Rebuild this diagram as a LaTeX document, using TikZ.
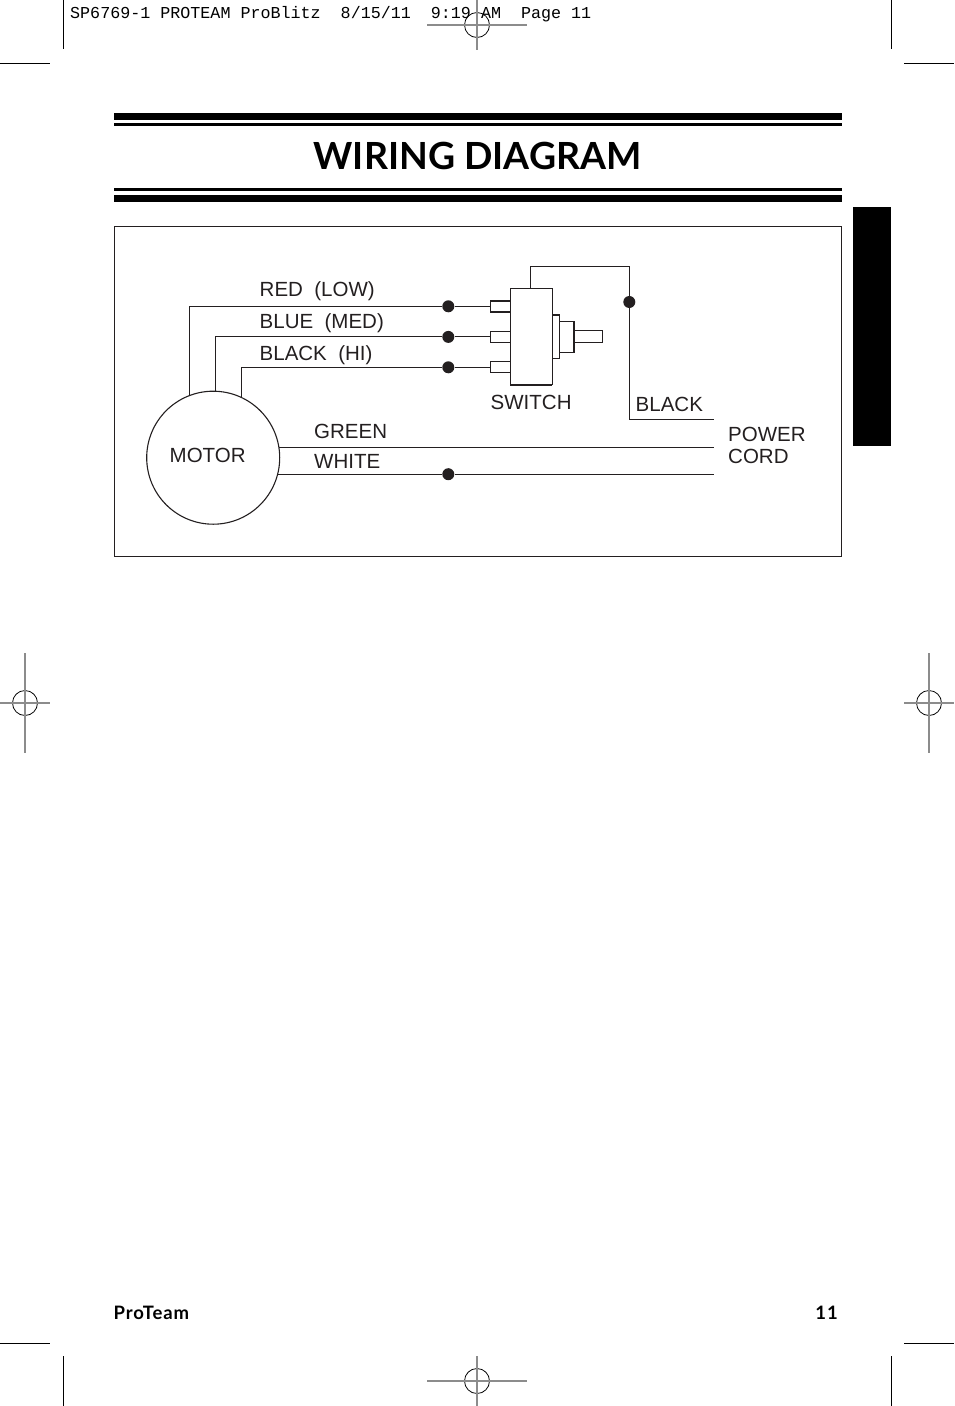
\documentclass[tikz,border=0pt]{standalone}
\usepackage{fontspec}
\setmainfont{Liberation Sans}
\setmonofont{Liberation Mono}
\newfontfamily\headfont{Lato}
\newfontfamily\footfont[LetterSpace=5]{Lato}
\usetikzlibrary{positioning, calc}
\definecolor{ink}{HTML}{231F20}
\tikzset{
    wire/.style={draw=ink, line width=1.1pt},
    heavy/.style={draw=ink, line width=2pt},
    bar/.style={draw=none, fill=black, inner sep=0pt, outer sep=0pt, anchor=north west},
    joint/.style={circle, fill=ink, inner sep=0pt, minimum size=12pt},
    part/.style={rectangle, wire, fill=white, inner sep=0pt, outer sep=0pt, anchor=north west},
    lbl/.style={anchor=base west, inner sep=0pt, text=ink, font=\fontsize{20.5}{24}\selectfont},
    trim/.style={draw=black, line width=1pt},
    reg/.style={draw=black!45, line width=1.2pt},
    regring/.style={circle, draw=black, line width=0.8pt, minimum size=25pt, inner sep=0pt},
}
\begin{document}
\begin{tikzpicture}[x=1pt, y=-1pt]
    \useasboundingbox (0,0) rectangle (954,1406);

    % slug line
    \node[anchor=base west, inner sep=0pt, font=\ttfamily\fontsize{16.7}{20}\selectfont] (slug) at (70,18) {SP6769-1 PROTEAM ProBlitz\ \ 8/15/11\ \ 9:19 AM\ \ Page 11};

    % trim marks
    \draw[trim] (63,0) -- (63,49);
    \draw[trim] (0,63) -- (50,63);
    \draw[trim] (891,0) -- (891,49);
    \draw[trim] (904,63) -- (954,63);
    \draw[trim] (63,1356) -- (63,1406);
    \draw[trim] (0,1343) -- (50,1343);
    \draw[trim] (891,1356) -- (891,1406);
    \draw[trim] (904,1343) -- (954,1343);

    % registration marks
    \node[regring] (regt) at (477,25) {};
    \draw[reg] (427,25) -- (527,25);
    \draw[reg] (477,0) -- (477,50);
    \node[regring] (regb) at (477,1381) {};
    \draw[reg] (427,1381) -- (527,1381);
    \draw[reg] (477,1356) -- (477,1406);
    \node[regring] (regl) at (25,703) {};
    \draw[reg] (0,703) -- (50,703);
    \draw[reg] (25,653) -- (25,753);
    \node[regring] (regr) at (929,703) {};
    \draw[reg] (904,703) -- (954,703);
    \draw[reg] (929,653) -- (929,753);

    % title
    \node[bar, minimum width=728pt, minimum height=6.5pt] (rule1) at (114,113) {};
    \node[bar, minimum width=728pt, minimum height=3pt] (rule2) at (114,123) {};
    \node[inner sep=0pt, font=\headfont\bfseries\fontsize{37.4}{44}\selectfont] (title) at (477.5,156) {WIRING DIAGRAM};
    \node[bar, minimum width=728pt, minimum height=2.5pt] (rule3) at (114,188) {};
    \node[bar, minimum width=728pt, minimum height=6.5pt] (rule4) at (114,195) {};
    \node[bar, minimum width=38pt, minimum height=239pt] (tab) at (853,207) {};

    % frame
    \node[part, minimum width=727pt, minimum height=330pt, fill=none] (frame) at (114.5,226.5) {};

    % switch
    \node[part, minimum width=42pt, minimum height=96.5pt] (sw) at (510.3,288.3) {};
    \node[part, minimum width=20pt, minimum height=11.6pt] (tred) at (490.3,300.7) {};
    \node[part, minimum width=20pt, minimum height=11.4pt] (tblue) at (490.3,331.3) {};
    \node[part, minimum width=20pt, minimum height=11.4pt] (tblack) at (490.3,361.3) {};
    \node[part, minimum width=7pt, minimum height=43.3pt] (plate) at (552.3,315) {};
    \node[part, minimum width=15pt, minimum height=31.4pt] (collar) at (559.3,321.3) {};
    \node[part, minimum width=28.4pt, minimum height=12pt] (shaft) at (574.3,330.7) {};
    \draw[heavy] (tred.north west) -- (tred.north east);
    \draw[heavy] (tred.south west) -- (tred.south east);
    \draw[heavy] (sw.south west) -- (sw.south east);
    \draw[heavy] (plate.north west) -- (plate.north east);
    \draw[heavy] (collar.north east) -- (collar.south east);

    % motor
    \node[circle, wire, minimum size=133pt, inner sep=0pt, outer sep=0pt] (motor) at (213.2,457.7) {};
    \node[lbl] (lmotor) at (169.5,462) {MOTOR};

    % joints
    \node[joint] (jred) at (448.3,306.3) {};
    \node[joint] (jblue) at (448.3,336.9) {};
    \node[joint] (jblack) at (448.3,367.3) {};
    \node[joint] (jwhite) at (448.3,474.2) {};
    \node[joint] (jline) at (629.3,302) {};

    % loose ends
    \coordinate (topl) at (530.3,266.7);
    \coordinate (topr) at (629.3,266.7);
    \coordinate (cblack) at (714,419.5);
    \coordinate (cgreen) at (714,447.2);
    \coordinate (cwhite) at (714,474.2);

    % wires
    \draw[wire] (jred) -- (tred.west |- jred);
    \draw[wire] (jblue) -- (tblue.west |- jblue);
    \draw[wire] (jblack) -- (tblack.west |- jblack);
    \draw[wire] (jred) -| (motor.111);
    \draw[wire] (jblue) -| (motor.88.3);
    \draw[wire] (jblack) -| (motor.65.4);
    \draw[wire] (sw.north -| topl) -- (topl) -- (topr) -- (jline);
    \draw[wire] (jline) |- (cblack);
    \draw[wire] (motor.9.1 |- cgreen) -- (cgreen);
    \draw[wire] (motor.-14.4 |- jwhite) -- (jwhite);
    \draw[wire] (jwhite) -- (cwhite);

    % labels
    \node[lbl] (lred) at (259.5,296) {RED\ \ (LOW)};
    \node[lbl] (lblue) at (259.5,328) {BLUE\ \ (MED)};
    \node[lbl] (lhi) at (259.5,360) {BLACK\ \ (HI)};
    \node[lbl] (lgreen) at (314,438) {GREEN};
    \node[lbl] (lwhite) at (314,468.5) {WHITE};
    \node[lbl] (lswitch) at (490.5,409) {SWITCH};
    \node[lbl] (lline) at (635.5,411) {BLACK};
    \node[lbl] (lpower) at (728,441.5) {POWER};
    \node[lbl] (lcord) at (728,463.5) {CORD};

    % footer
    \node[anchor=base west, inner sep=0pt, font=\footfont\bfseries\fontsize{18.5}{22}\selectfont] (brand) at (113.5,1319) {ProTeam};
    \node[anchor=base east, inner sep=0pt, font=\footfont\bfseries\fontsize{18.5}{22}\selectfont] (folio) at (838,1319) {11};
\end{tikzpicture}
\end{document}
